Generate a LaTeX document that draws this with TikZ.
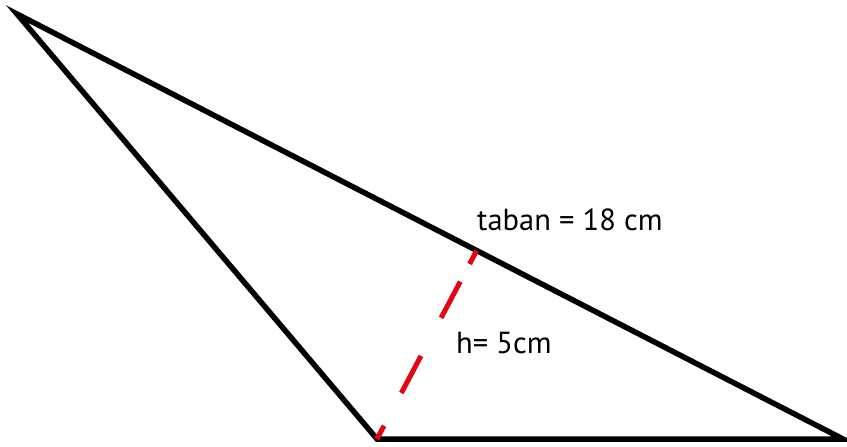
\documentclass[tikz,border=0pt]{standalone}
\usepackage{fontspec}
\setmainfont{PT Sans}
\definecolor{hred}{RGB}{227,6,19}
\begin{document}
\begin{tikzpicture}[x=1pt,y=-1pt,
  edge/.style={line width=5.5pt,line join=miter},
  height/.style={line width=5pt,draw=hred,dash pattern=on 15pt off 37pt on 42pt off 43pt on 41pt off 20pt on 15pt off 100pt},
  lbl/.style={anchor=base west,inner sep=0pt,font=\fontsize{30.5}{36}\selectfont}]
\useasboundingbox (0,0) rectangle (847,447);
\coordinate (A) at (17,14);
\coordinate (B) at (377,439);
\coordinate (C) at (843,439);
\coordinate (F) at (477,250);
\draw[edge] (A) -- (B) -- (C) -- cycle;
\draw[height] (B) -- (F);
\node[lbl] (t) at (477,230) {taban = 18 cm};
\node[lbl] (h) at (456,353) {h= 5cm};
\end{tikzpicture}
\end{document}
